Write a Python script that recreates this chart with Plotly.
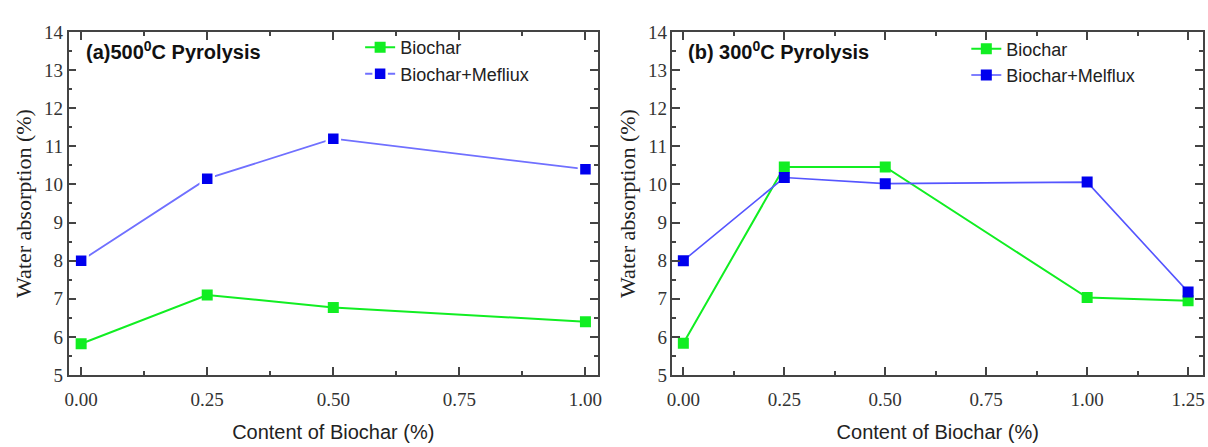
import plotly.graph_objects as go

# ---- data ----
x_a = [0.0, 0.25, 0.50, 1.00]
biochar_a = [5.82, 7.10, 6.77, 6.40]
mefliux_a = [8.00, 10.15, 11.20, 10.40]

x_b = [0.0, 0.25, 0.50, 1.00, 1.25]
biochar_b = [5.83, 10.46, 10.46, 7.03, 6.95]
melflux_b = [8.00, 10.18, 10.02, 10.06, 7.18]

green = "#11ee22"
blue_marker = "#0000ee"
blue_line_a = "#7070ff"
blue_line_b = "#5555ff"

fig = go.Figure()

fig.add_trace(go.Scatter(x=x_a, y=biochar_a, name="Biochar", mode="lines+markers",
                         line=dict(color=green, width=2),
                         marker=dict(symbol="square", size=11, color=green),
                         xaxis="x", yaxis="y", legend="legend"))
fig.add_trace(go.Scatter(x=x_a, y=mefliux_a, name="Biochar+Mefliux", mode="lines+markers",
                         line=dict(color=blue_line_a, width=1.8),
                         marker=dict(symbol="square", size=13, color=blue_marker,
                                     line=dict(color="white", width=2.5)),
                         xaxis="x", yaxis="y", legend="legend"))
fig.add_trace(go.Scatter(x=x_b, y=biochar_b, name="Biochar", mode="lines+markers",
                         line=dict(color=green, width=2),
                         marker=dict(symbol="square", size=11, color=green),
                         xaxis="x2", yaxis="y2", legend="legend2"))
fig.add_trace(go.Scatter(x=x_b, y=melflux_b, name="Biochar+Melflux", mode="lines+markers",
                         line=dict(color=blue_line_b, width=1.6),
                         marker=dict(symbol="square", size=11, color=blue_marker),
                         xaxis="x2", yaxis="y2", legend="legend2"))

axis_common = dict(
    showline=True, linecolor="#444444", linewidth=1.5, mirror="ticks",
    ticks="inside", ticklen=8, tickwidth=1.5, tickcolor="#444444",
    showgrid=False, zeroline=False,
    tickfont=dict(family="Liberation Serif", size=19, color="#333333"),
)
minor_x = dict(ticks="inside", ticklen=4, tickwidth=1.5, tickcolor="#444444", dtick=0.125, showgrid=False)
minor_y = dict(ticks="inside", ticklen=4, tickwidth=1.5, tickcolor="#444444", dtick=0.5, showgrid=False)

ydom = [0.1432, 0.9485]
xtitle_font = dict(family="Liberation Sans", size=20, color="#222222")
ytitle_font = dict(family="Liberation Serif", size=22, color="#222222")

fig.update_layout(
    width=1208, height=447,
    margin=dict(l=0, r=0, t=0, b=0),
    paper_bgcolor="white", plot_bgcolor="white",
    showlegend=True,
    xaxis=dict(domain=[0.0522, 0.4942], range=[-0.025, 1.025], tick0=0, dtick=0.25,
               tickformat=".2f", minor=minor_x, anchor="y", ticklabelstandoff=6,
               title=dict(text="Content of Biochar (%)", standoff=16, font=xtitle_font),
               **axis_common),
    yaxis=dict(domain=ydom, range=[5, 14], tick0=5, dtick=1, minor=minor_y, anchor="x",
               title=dict(text="Water absorption (%)", standoff=6, font=ytitle_font),
               **axis_common),
    xaxis2=dict(domain=[0.5563, 0.9992], range=[-0.027, 1.287], tick0=0, dtick=0.25,
                tickformat=".2f", minor=minor_x, anchor="y2", ticklabelstandoff=6,
                title=dict(text="Content of Biochar (%)", standoff=16, font=xtitle_font),
                **axis_common),
    yaxis2=dict(domain=ydom, range=[5, 14], tick0=5, dtick=1, minor=minor_y, anchor="x2",
                title=dict(text="Water absorption (%)", standoff=6, font=ytitle_font),
                **axis_common),
    legend=dict(x=0.2956, y=0.955, xanchor="left", yanchor="top",
                bgcolor="rgba(255,255,255,0)", borderwidth=0, tracegroupgap=0,
                font=dict(family="Liberation Sans", size=18, color="#222222")),
    legend2=dict(x=0.8016, y=0.952, xanchor="left", yanchor="top",
                 bgcolor="rgba(255,255,255,0)", borderwidth=0, tracegroupgap=0,
                 font=dict(family="Liberation Sans", size=18, color="#222222")),
    annotations=[
        dict(text="<b>(a)500<sup>0</sup>C Pyrolysis</b>", xref="paper", yref="paper",
             x=79/1208, y=1-42/447, xanchor="left", yanchor="middle", showarrow=False,
             font=dict(family="Liberation Sans", size=20, color="#111111")),
        dict(text="<b>(b) 300<sup>0</sup>C Pyrolysis</b>", xref="paper", yref="paper",
             x=686/1208, y=1-42/447, xanchor="left", yanchor="middle", showarrow=False,
             font=dict(family="Liberation Sans", size=20, color="#111111")),
    ],
)

fig.write_html("out.html")
